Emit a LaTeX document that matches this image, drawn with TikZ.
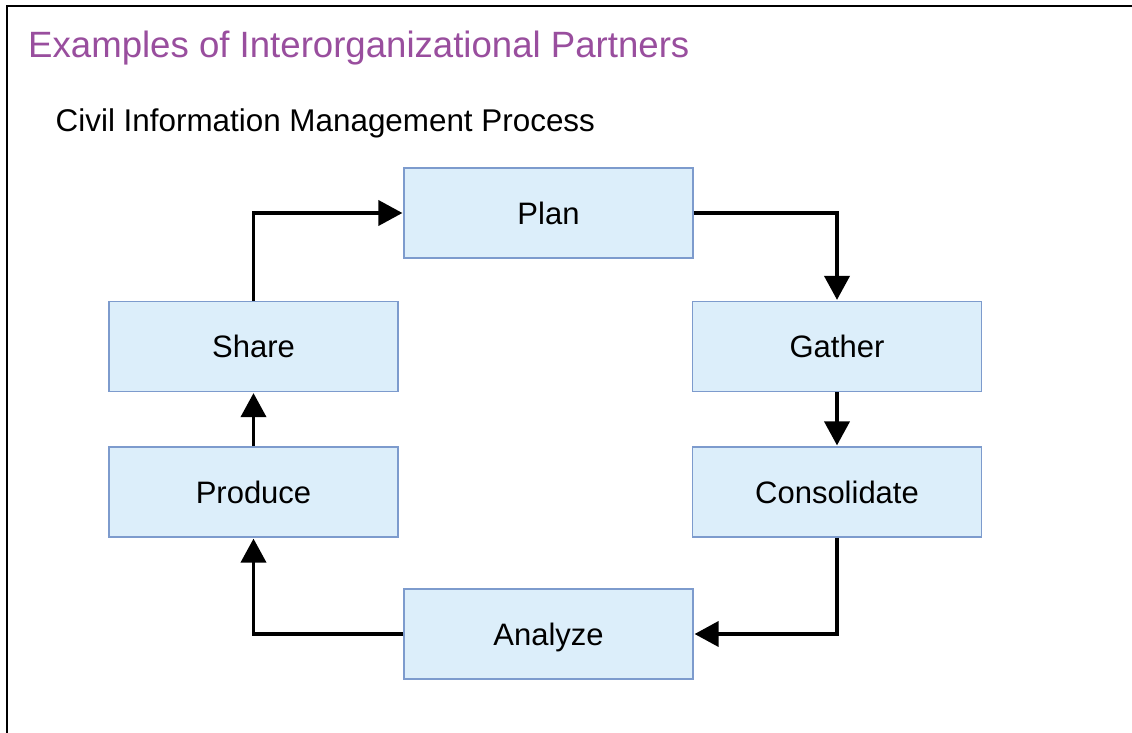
\documentclass[tikz,border=0pt]{standalone}
\usepackage{fontspec}
\setmainfont{Liberation Sans}
\usetikzlibrary{arrows.meta}
\definecolor{titlepurple}{RGB}{153,78,158}
\definecolor{boxfill}{RGB}{220,238,250}
\definecolor{boxline}{RGB}{125,155,205}
\begin{document}
\begin{tikzpicture}[x=1pt,y=-1pt,
  stepbox/.style={draw=boxline, fill=boxfill, line width=1.2pt, minimum width=289pt, minimum height=90pt, inner sep=0pt, text height=22.2pt, text depth=0pt, font=\fontsize{31}{36}\selectfont},
  flow/.style={draw=black, line width=3.8pt, line join=miter, -{Triangle[length=24pt,width=25pt]}, shorten >=1pt}]
\useasboundingbox (0,0) rectangle (1132,733);
\fill[white] (0,0) rectangle (1132,733);
\draw[line width=2.8pt] (7,733) -- (7,6) -- (1132,6);
\node[anchor=base west, inner sep=0pt, text=titlepurple, font=\fontsize{36.6}{42}\selectfont] (title) at (28,57.5) {Examples of Interorganizational Partners};
\node[anchor=base west, inner sep=0pt, font=\fontsize{31.4}{37}\selectfont] (subtitle) at (55.5,131.5) {Civil Information Management Process};
\node[stepbox] (plan) at (548.5,213) {Plan};
\node[stepbox] (share) at (253.5,346.5) {Share};
\node[stepbox] (gather) at (837,346.5) {Gather};
\node[stepbox] (produce) at (253.5,492) {Produce};
\node[stepbox] (consolidate) at (837,492) {Consolidate};
\node[stepbox] (analyze) at (548.5,634) {Analyze};
\draw[flow] (share.north) |- (plan.west);
\draw[flow] (plan.east) -| (gather.north);
\draw[flow] (gather.south) -- (consolidate.north);
\draw[flow] (consolidate.south) |- (analyze.east);
\draw[flow] (analyze.west) -| (produce.south);
\draw[flow] (produce.north) -- (share.south);
\end{tikzpicture}
\end{document}
